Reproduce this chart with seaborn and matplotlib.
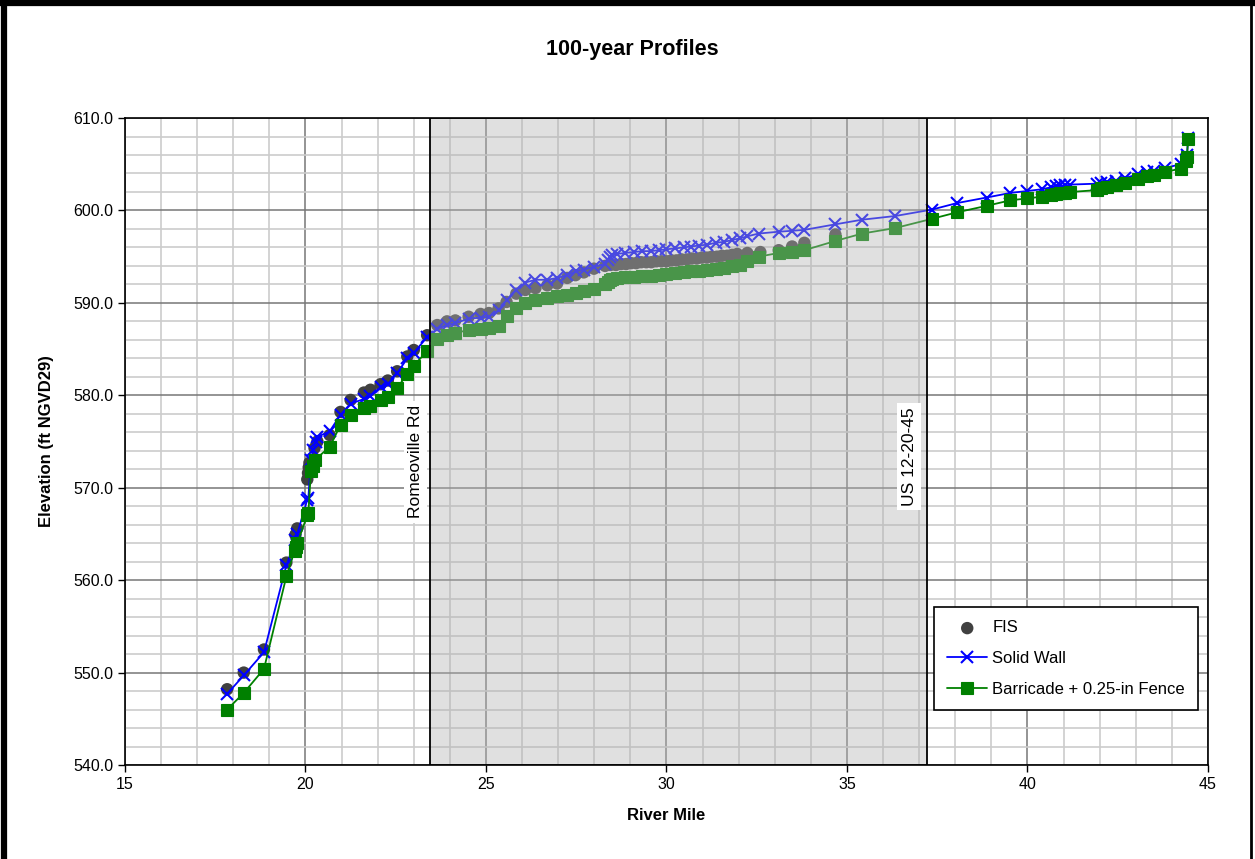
import matplotlib
matplotlib.use('Agg')
import matplotlib.pyplot as plt
import seaborn as sns
from matplotlib.patches import Rectangle
from matplotlib.lines import Line2D
from matplotlib.ticker import MultipleLocator, FormatStrFormatter

# ---------------- data ----------------
fis_mile = [17.83, 18.29, 18.85, 19.47, 19.72, 19.77, 20.05, 20.07, 20.09, 20.11,
            20.25, 20.33, 20.67, 20.97, 21.25, 21.62, 21.80, 22.08, 22.28, 22.54,
            22.82, 23.00, 23.37, 23.65, 23.92, 24.15, 24.52, 24.85, 25.08, 25.35,
            25.57, 25.84, 26.09, 26.37, 26.70, 26.97, 27.25, 27.48, 27.71, 27.99,
            28.30, 28.45, 28.60, 28.74, 28.88, 29.02, 29.16, 29.30, 29.44, 29.58,
            29.72, 29.86, 30.00, 30.14, 30.28, 30.42, 30.56, 30.70, 30.84, 30.98,
            31.12, 31.26, 31.40, 31.54, 31.68, 31.82, 31.96, 32.24, 32.60, 33.11,
            33.48, 33.82, 34.68]
fis_elev = [548.2, 550.0, 552.5, 561.9, 564.9, 565.6, 570.9, 571.6, 572.2, 572.7,
            574.3, 575.0, 575.7, 578.2, 579.5, 580.3, 580.6, 581.2, 581.6, 582.6,
            584.2, 584.9, 586.5, 587.6, 588.0, 588.1, 588.5, 588.8, 588.9, 589.4,
            590.1, 591.0, 591.4, 591.6, 591.9, 592.1, 592.7, 593.0, 593.3, 593.7,
            594.0, 594.1, 594.1, 594.2, 594.2, 594.3, 594.3, 594.4, 594.4, 594.4,
            594.5, 594.5, 594.5, 594.6, 594.6, 594.7, 594.7, 594.8, 594.8, 594.9,
            594.9, 595.0, 595.0, 595.1, 595.1, 595.2, 595.3, 595.4, 595.5, 595.7,
            596.1, 596.5, 597.4]

wall_mile = [17.83, 18.29, 18.85, 19.47, 19.72, 19.77, 20.05, 20.08, 20.15, 20.22,
             20.28, 20.33, 20.67, 20.97, 21.25, 21.62, 21.80, 22.08, 22.28, 22.54,
             22.82, 23.00, 23.37, 23.65, 23.92, 24.15, 24.52, 24.85, 25.08, 25.35,
             25.57, 25.84, 26.09, 26.37, 26.70, 26.97, 27.25, 27.48, 27.71, 27.99,
             28.30, 28.38, 28.43, 28.50, 28.63, 28.86, 29.09, 29.33, 29.56, 29.79,
             30.00, 30.25, 30.48, 30.67, 30.90, 31.13, 31.36, 31.59, 31.82, 32.05,
             32.24, 32.55, 33.11, 33.48, 33.82, 34.68, 35.42, 36.34, 37.36, 38.05,
             38.87, 39.53, 39.99, 40.41, 40.64, 40.78, 40.91, 41.05, 41.19, 41.93,
             42.05, 42.20, 42.45, 42.70, 43.05, 43.30, 43.50, 43.82, 44.24, 44.38,
             44.42, 44.45]
wall_elev = [547.7, 549.7, 552.2, 561.6, 564.3, 565.0, 568.7, 568.9, 573.0, 574.1,
             575.0, 575.5, 576.1, 577.9, 579.1, 579.6, 579.9, 580.9, 581.2, 582.4,
             584.0, 584.6, 586.3, 587.2, 587.6, 587.8, 588.3, 588.4, 588.5, 589.2,
             590.3, 591.4, 592.2, 592.5, 592.5, 592.7, 593.0, 593.4, 593.6, 593.9,
             594.2, 594.6, 595.0, 595.2, 595.3, 595.4, 595.5, 595.6, 595.6, 595.7,
             595.8, 595.9, 596.0, 596.1, 596.2, 596.3, 596.5, 596.6, 596.8, 597.0,
             597.2, 597.5, 597.7, 597.8, 597.9, 598.5, 599.0, 599.4, 600.1, 600.8,
             601.4, 601.9, 602.1, 602.3, 602.5, 602.6, 602.7, 602.7, 602.8, 602.9,
             603.0, 603.1, 603.2, 603.5, 603.9, 604.2, 604.3, 604.6, 605.0, 605.5,
             606.0, 607.8]

fence_mile = [17.83, 18.29, 18.85, 19.47, 19.70, 19.73, 19.77, 20.05, 20.08, 20.15,
              20.20, 20.25, 20.67, 20.97, 21.25, 21.62, 21.80, 22.08, 22.28, 22.54,
              22.82, 23.00, 23.37, 23.65, 23.92, 24.15, 24.52, 24.85, 25.08, 25.35,
              25.57, 25.84, 26.09, 26.37, 26.70, 26.97, 27.25, 27.48, 27.71, 27.99,
              28.30, 28.38, 28.43, 28.50, 28.63, 28.86, 29.09, 29.33, 29.56, 29.79,
              30.00, 30.25, 30.48, 30.67, 30.90, 31.13, 31.36, 31.59, 31.82, 32.05,
              32.24, 32.55, 33.11, 33.48, 33.82, 34.68, 35.42, 36.34, 37.36, 38.05,
              38.87, 39.53, 39.99, 40.41, 40.64, 40.78, 40.91, 41.05, 41.19, 41.93,
              42.05, 42.20, 42.45, 42.70, 43.05, 43.30, 43.50, 43.82, 44.24, 44.38,
              44.42, 44.45]
fence_elev = [546.0, 547.8, 550.4, 560.4, 563.2, 563.6, 564.0, 567.0, 567.3, 571.8,
              572.3, 573.0, 574.4, 576.8, 577.9, 578.6, 578.8, 579.5, 579.8, 580.8,
              582.3, 583.2, 584.8, 586.1, 586.5, 586.7, 587.1, 587.2, 587.3, 587.5,
              588.6, 589.5, 590.0, 590.3, 590.5, 590.7, 590.9, 591.1, 591.3, 591.5,
              592.0, 592.3, 592.5, 592.6, 592.7, 592.8, 592.8, 592.9, 592.9, 593.0,
              593.1, 593.2, 593.3, 593.4, 593.5, 593.6, 593.7, 593.8, 594.0, 594.1,
              594.5, 595.0, 595.4, 595.5, 595.7, 596.7, 597.5, 598.1, 599.1, 599.8,
              600.5, 601.1, 601.3, 601.5, 601.7, 601.8, 601.9, 601.9, 602.0, 602.2,
              602.4, 602.5, 602.7, 603.0, 603.4, 603.7, 603.8, 604.2, 604.5, 605.4,
              605.8, 607.7]

series_labels = ["FIS", "Solid Wall", "Barricade + 0.25-in Fence"]
x_ticks = [15, 20, 25, 30, 35, 40, 45]
y_ticks = [540, 550, 560, 570, 580, 590, 600, 610]
study_reach = [23.44, 37.22]
annotations = [("Romeoville Rd", 23.05, 572.8), ("US 12-20-45", 36.72, 573.4)]

# ---------------- figure ----------------
sns.set_style('white')
plt.rcParams['font.family'] = ['Liberation Sans', 'DejaVu Sans']
plt.rcParams['text.color'] = 'black'
plt.rcParams['axes.labelcolor'] = 'black'
plt.rcParams['xtick.color'] = 'black'
plt.rcParams['ytick.color'] = 'black'

fig = plt.figure(figsize=(12.55, 8.59), dpi=100)
ax = fig.add_axes([0.0996, 0.1094, 0.8629, 0.7532])

sns.scatterplot(x=fis_mile, y=fis_elev, ax=ax, color='#404040', s=80,
                edgecolor='none', linewidth=0, zorder=3, label=series_labels[0])
sns.lineplot(x=wall_mile, y=wall_elev, ax=ax, color='#0000ff', lw=1.3,
             marker='x', markersize=8, markeredgewidth=1.5,
             markeredgecolor='#0000ff', sort=False, estimator=None,
             zorder=4, label=series_labels[1])
sns.lineplot(x=fence_mile, y=fence_elev, ax=ax, color='#008000', lw=1.3,
             marker='s', markersize=8.3, markeredgewidth=0.8,
             markeredgecolor='#008000', markerfacecolor='#008000',
             sort=False, estimator=None, zorder=4.5, label=series_labels[2])

# shaded study reach (semi-transparent overlay above the data)
x0, x1 = study_reach
ax.add_patch(Rectangle((x0, 540), x1 - x0, 70, facecolor='#b4b4b4',
                       alpha=0.41, edgecolor='none', zorder=5))
ax.add_patch(Rectangle((x0, 540), x1 - x0, 70, fill=False,
                       edgecolor='black', lw=1.3, zorder=6))

for txt, xm, ym in annotations:
    ax.text(xm, ym, txt, rotation=90, ha='center', va='center', fontsize=12.5,
            color='black', zorder=7,
            bbox=dict(facecolor='white', edgecolor='none', pad=3))

ax.set_xlim(15, 45)
ax.set_ylim(540, 610)
ax.set_xticks(x_ticks)
ax.set_yticks(y_ticks)
ax.yaxis.set_major_formatter(FormatStrFormatter('%.1f'))
ax.xaxis.set_minor_locator(MultipleLocator(1))
ax.yaxis.set_minor_locator(MultipleLocator(2))
ax.set_axisbelow(True)
ax.grid(which='minor', color='#cccccc', lw=1.2)
ax.grid(which='major', color='#777777', lw=1.1)
ax.tick_params(which='major', direction='out', length=5, width=1,
               labelsize=11.5, color='black', labelcolor='black',
               bottom=True, left=True)
ax.tick_params(which='minor', length=0)
for s in ax.spines.values():
    s.set_color('black')
    s.set_linewidth(1.2)

ax.set_xlabel('River Mile', fontsize=12, fontweight='bold', labelpad=12,
              color='black')
ax.set_ylabel('Elevation (ft NGVD29)', fontsize=12, fontweight='bold',
              labelpad=14, color='black')
fig.text(0.504, 0.942, '100-year Profiles', ha='center', va='center',
         fontsize=15.5, fontweight='bold', color='black')

leg = ax.legend(loc='upper right', bbox_to_anchor=(0.991, 0.244),
                borderaxespad=0, fontsize=12, frameon=True, fancybox=False,
                framealpha=1, edgecolor='black', handlelength=2.4,
                labelspacing=0.95, borderpad=0.8, handletextpad=0.3)
leg.get_frame().set_linewidth(1.2)
leg.set_zorder(10)
for t in leg.get_texts():
    t.set_color('black')

# outer chart border
fig.add_artist(Line2D([0, 1], [0.9965, 0.9965], transform=fig.transFigure,
                      color='black', lw=4.5))
fig.add_artist(Line2D([0.0028, 0.0028], [0, 1], transform=fig.transFigure,
                      color='black', lw=4.5))
fig.add_artist(Line2D([0.997, 0.997], [0, 1], transform=fig.transFigure,
                      color='black', lw=2))

fig.savefig('out.png', dpi=100)
